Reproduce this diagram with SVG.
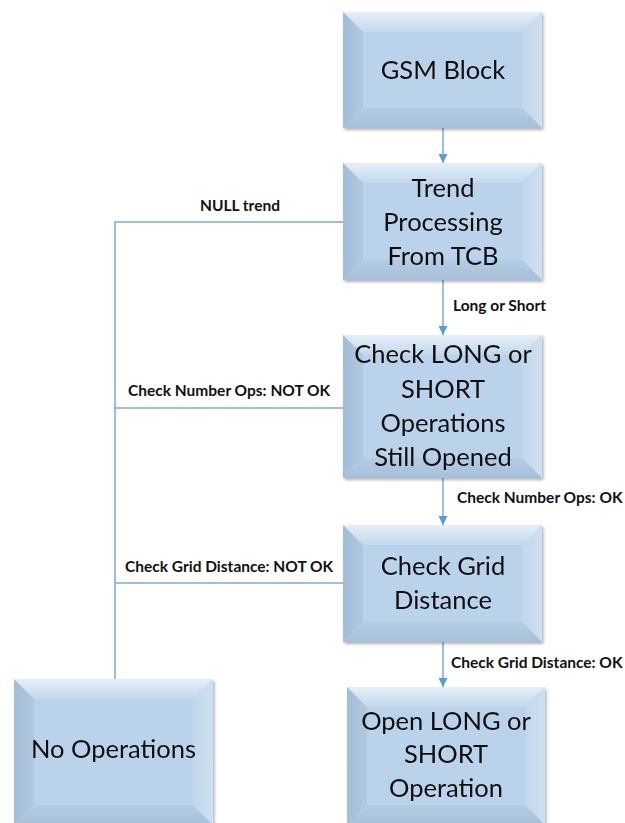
<svg xmlns="http://www.w3.org/2000/svg" width="625" height="823" viewBox="0 0 625 823">
<defs>
<style>
.face{fill:#bbd3ea}
.bt{fill:url(#gt)}
.bl{fill:url(#gl)}
.br{fill:url(#gr)}
.bb{fill:url(#gb)}
.nt{font-family:Lato,"Open Sans",sans-serif;font-size:25.5px;fill:#111;text-anchor:middle}
.lb{font-family:Lato,"Open Sans",sans-serif;font-size:15.5px;font-weight:bold;fill:#111}
.cn{fill:none;stroke:#7ea9d8;stroke-width:1.5}
</style>
<linearGradient id="gt" x1="0" y1="0" x2="0" y2="1"><stop offset="0" stop-color="#e6eff8"/><stop offset="1" stop-color="#c3d8ec"/></linearGradient>
<linearGradient id="gl" x1="0" y1="0" x2="1" y2="0"><stop offset="0" stop-color="#a3bdd7"/><stop offset="1" stop-color="#b1c9e0"/></linearGradient>
<linearGradient id="gr" x1="0" y1="0" x2="1" y2="0"><stop offset="0" stop-color="#c2d7eb"/><stop offset="1" stop-color="#cfe0f0"/></linearGradient>
<linearGradient id="gb" x1="0" y1="0" x2="0" y2="1"><stop offset="0" stop-color="#b4cce3"/><stop offset="1" stop-color="#a7c0d9"/></linearGradient>
<filter id="sh" x="-10%" y="-10%" width="125%" height="125%"><feDropShadow dx="1.5" dy="2" stdDeviation="1.5" flood-color="#000" flood-opacity="0.3"/></filter>
<marker id="ah" viewBox="0 0 10 10" refX="10" refY="5" markerWidth="9" markerHeight="9" markerUnits="userSpaceOnUse" orient="auto"><path d="M0,0 L10,5 L0,10 z" fill="#5b9bd5"/></marker>
</defs>
<rect width="625" height="823" fill="#fff"/>
<g id="connectors">
<path class="cn" d="M443,128 V163" marker-end="url(#ah)"/>
<path class="cn" d="M443,280 V335" marker-end="url(#ah)"/>
<path class="cn" d="M443,478 V525" marker-end="url(#ah)"/>
<path class="cn" d="M443,642 V687" marker-end="url(#ah)"/>
<path class="cn" d="M343,222 H115 V679"/>
<path class="cn" d="M343,408 H115"/>
<path class="cn" d="M343,583 H115"/>
<text class="lb" x="240" y="211" text-anchor="middle">NULL trend</text>
<text class="lb" x="453" y="311">Long or Short</text>
<text class="lb" x="128" y="396">Check Number Ops: NOT OK</text>
<text class="lb" x="457" y="503">Check Number Ops: OK</text>
<text class="lb" x="125" y="572">Check Grid Distance: NOT OK</text>
<text class="lb" x="451" y="668">Check Grid Distance: OK</text>
</g>
<g id="gsm" filter="url(#sh)">
<rect class="face" x="343" y="12" width="199" height="116"/>
<polygon class="bt" points="343,12 542,12 522,32 363,32"/>
<polygon class="bl" points="343,12 363,32 363,108 343,128"/>
<polygon class="br" points="542,12 542,128 522,108 522,32"/>
<polygon class="bb" points="343,128 363,108 522,108 542,128"/>
<text class="nt" x="443" y="79">GSM Block</text>
</g>
<g id="trend" filter="url(#sh)">
<rect class="face" x="343" y="163" width="199" height="117"/>
<polygon class="bt" points="343,163 542,163 522,183 363,183"/>
<polygon class="bl" points="343,163 363,183 363,260 343,280"/>
<polygon class="br" points="542,163 542,280 522,260 522,183"/>
<polygon class="bb" points="343,280 363,260 522,260 542,280"/>
<text class="nt" x="443" y="197">Trend</text>
<text class="nt" x="443" y="231">Processing</text>
<text class="nt" x="443" y="265">From TCB</text>
</g>
<g id="checklong" filter="url(#sh)">
<rect class="face" x="343" y="335" width="199" height="143"/>
<polygon class="bt" points="343,335 542,335 522,355 363,355"/>
<polygon class="bl" points="343,335 363,355 363,458 343,478"/>
<polygon class="br" points="542,335 542,478 522,458 522,355"/>
<polygon class="bb" points="343,478 363,458 522,458 542,478"/>
<text class="nt" x="443" y="363">Check LONG or</text>
<text class="nt" x="443" y="398">SHORT</text>
<text class="nt" x="443" y="432">Operations</text>
<text class="nt" x="443" y="466">Still Opened</text>
</g>
<g id="checkgrid" filter="url(#sh)">
<rect class="face" x="343" y="525" width="199" height="117"/>
<polygon class="bt" points="343,525 542,525 522,545 363,545"/>
<polygon class="bl" points="343,525 363,545 363,622 343,642"/>
<polygon class="br" points="542,525 542,642 522,622 522,545"/>
<polygon class="bb" points="343,642 363,622 522,622 542,642"/>
<text class="nt" x="443" y="575">Check Grid</text>
<text class="nt" x="443" y="609">Distance</text>
</g>
<g id="open" filter="url(#sh)">
<rect class="face" x="347" y="687" width="198" height="138"/>
<polygon class="bt" points="347,687 545,687 525,707 367,707"/>
<polygon class="bl" points="347,687 367,707 367,805 347,825"/>
<polygon class="br" points="545,687 545,825 525,805 525,707"/>
<polygon class="bb" points="347,825 367,805 525,805 545,825"/>
<text class="nt" x="446" y="730">Open LONG or</text>
<text class="nt" x="446" y="763">SHORT</text>
<text class="nt" x="446" y="797">Operation</text>
</g>
<g id="noops" filter="url(#sh)">
<rect class="face" x="14" y="679" width="199" height="146"/>
<polygon class="bt" points="14,679 213,679 193,699 34,699"/>
<polygon class="bl" points="14,679 34,699 34,805 14,825"/>
<polygon class="br" points="213,679 213,825 193,805 193,699"/>
<polygon class="bb" points="14,825 34,805 193,805 213,825"/>
<text class="nt" x="113.5" y="758">No Operations</text>
</g>
</svg>
